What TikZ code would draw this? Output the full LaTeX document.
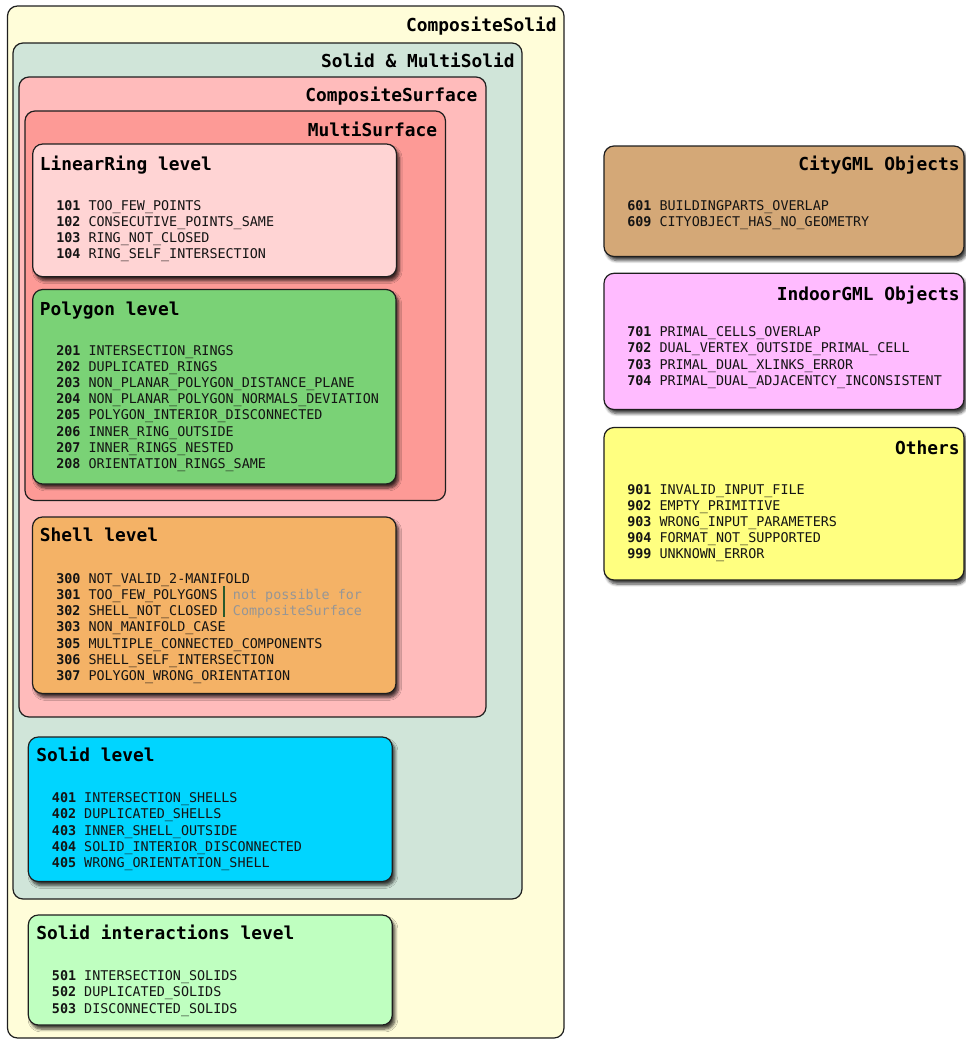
\documentclass[tikz,border=0pt]{standalone}
\usepackage{fontspec}
\setmonofont{DejaVu Sans Mono}
\usetikzlibrary{fit,shadows.blur}
\definecolor{linec}{RGB}{30,30,30}
\definecolor{csc}{RGB}{255,253,217}
\definecolor{smsc}{RGB}{208,229,217}
\definecolor{csurfc}{RGB}{255,187,187}
\definecolor{msurfc}{RGB}{253,154,150}
\definecolor{lrc}{RGB}{255,212,212}
\definecolor{polyc}{RGB}{122,210,118}
\definecolor{shellc}{RGB}{244,178,102}
\definecolor{solidc}{RGB}{0,213,255}
\definecolor{sintc}{RGB}{191,255,192}
\definecolor{cityc}{RGB}{212,168,119}
\definecolor{indoorc}{RGB}{255,187,255}
\definecolor{othersc}{RGB}{255,255,128}
\definecolor{notec}{RGB}{150,150,150}
\definecolor{vlinec}{RGB}{40,90,45}
\definecolor{txtc}{RGB}{20,20,20}
\tikzset{
  cont/.style={draw=linec, line width=0.9pt, rounded corners=7.5pt, inner sep=0pt},
  lvl/.style={cont, blur shadow={shadow xshift=2pt, shadow yshift=-3pt, shadow blur radius=2.2pt, shadow blur steps=6, shadow opacity=75}},
  ctitle/.style={font=\ttfamily\bfseries\fontsize{13.4}{16}\selectfont, text=black, inner sep=0pt, anchor=base east},
  ltitle/.style={font=\ttfamily\bfseries\fontsize{13.4}{16}\selectfont, text=black, inner sep=0pt, anchor=base west},
  itm/.style={font=\ttfamily\fontsize{10.05}{12}\selectfont, text=txtc, inner sep=0pt, anchor=base west},
}
\newcommand\itemlist[4]{%
  \foreach \nn/\lbl [count=\i from 0] in {#4} {
    \node[itm] (#1-\i) at (#2, #3+\i*16.2) {\textbf{\nn} \lbl};
  }
}
\begin{document}
\begin{tikzpicture}[x=0.75pt, y=-0.75pt]
\useasboundingbox (0,0) rectangle (966,1039);
% containers
\node[cont, fill=csc, fit={(7.5,6) (564,1038)}] (cs) {};
\node[ctitle] (cst) at (557,31.7) {CompositeSolid};
\node[cont, fill=smsc, fit={(13,43) (522,899)}] (sms) {};
\node[ctitle] (smst) at (515,67.3) {Solid \& MultiSolid};
\node[cont, fill=csurfc, fit={(19,77) (486,717)}] (csurf) {};
\node[ctitle] (csurft) at (477.7,101.7) {CompositeSurface};
\node[cont, fill=msurfc, fit={(25,111) (445.5,500.5)}] (msurf) {};
\node[ctitle] (msurft) at (437.3,136.7) {MultiSurface};
% LinearRing level
\node[lvl, fill=lrc, fit={(32.7,144) (396.5,276.7)}] (lr) {};
\node[ltitle] (lrt) at (39.5,170) {LinearRing level};
\itemlist{lri}{56}{210}{101/TOO\_FEW\_POINTS, 102/CONSECUTIVE\_POINTS\_SAME, 103/RING\_NOT\_CLOSED, 104/RING\_SELF\_INTERSECTION}
% Polygon level
\node[lvl, fill=polyc, fit={(32.7,289.5) (396,484)}] (poly) {};
\node[ltitle] (polyt) at (39.5,315) {Polygon level};
\itemlist{polyi}{56}{355}{201/INTERSECTION\_RINGS, 202/DUPLICATED\_RINGS, 203/NON\_PLANAR\_POLYGON\_DISTANCE\_PLANE, 204/NON\_PLANAR\_POLYGON\_NORMALS\_DEVIATION, 205/POLYGON\_INTERIOR\_DISCONNECTED, 206/INNER\_RING\_OUTSIDE, 207/INNER\_RINGS\_NESTED, 208/ORIENTATION\_RINGS\_SAME}
% Shell level
\node[lvl, fill=shellc, fit={(32.5,517) (396,693.5)}] (shell) {};
\node[ltitle] (shellt) at (39.5,541.7) {Shell level};
\itemlist{shelli}{56}{583.3}{300/NOT\_VALID\_2-MANIFOLD, 301/TOO\_FEW\_POLYGONS, 302/SHELL\_NOT\_CLOSED, 303/NON\_MANIFOLD\_CASE, 305/MULTIPLE\_CONNECTED\_COMPONENTS, 306/SHELL\_SELF\_INTERSECTION, 307/POLYGON\_WRONG\_ORIENTATION}
\coordinate (vl1) at (224,586);
\coordinate (vl2) at (224,616.5);
\draw[vlinec, line width=0.8pt] (vl1) -- (vl2);
\node[itm, text=notec] (note1) at (232.7,599.5) {not possible for};
\node[itm, text=notec] (note2) at (232.7,615.7) {CompositeSurface};
% Solid level
\node[lvl, fill=solidc, fit={(28.3,737) (392.3,881.5)}] (solid) {};
\node[ltitle] (solidt) at (36,761.7) {Solid level};
\itemlist{solidi}{51.7}{802.7}{401/INTERSECTION\_SHELLS, 402/DUPLICATED\_SHELLS, 403/INNER\_SHELL\_OUTSIDE, 404/SOLID\_INTERIOR\_DISCONNECTED, 405/WRONG\_ORIENTATION\_SHELL}
% Solid interactions level
\node[lvl, fill=sintc, fit={(28.3,915) (392.3,1025)}] (sint) {};
\node[ltitle] (sintt) at (36,939.3) {Solid interactions level};
\itemlist{sinti}{51.7}{980.7}{501/INTERSECTION\_SOLIDS, 502/DUPLICATED\_SOLIDS, 503/DISCONNECTED\_SOLIDS}
% right column
\node[lvl, fill=cityc, fit={(604,146) (964,256.5)}] (city) {};
\node[ctitle] (cityt) at (960,170.7) {CityGML Objects};
\itemlist{cityi}{627}{210}{601/BUILDINGPARTS\_OVERLAP, 609/CITYOBJECT\_HAS\_NO\_GEOMETRY}
\node[lvl, fill=indoorc, fit={(604,273.3) (964,409.5)}] (indoor) {};
\node[ctitle] (indoort) at (960,300.7) {IndoorGML Objects};
\itemlist{indoori}{627}{336.7}{701/PRIMAL\_CELLS\_OVERLAP, 702/DUAL\_VERTEX\_OUTSIDE\_PRIMAL\_CELL, 703/PRIMAL\_DUAL\_XLINKS\_ERROR, 704/PRIMAL\_DUAL\_ADJACENTCY\_INCONSISTENT}
\node[lvl, fill=othersc, fit={(604,427.5) (964,580)}] (others) {};
\node[ctitle] (otherst) at (960,454) {Others};
\itemlist{othersi}{627}{494}{901/INVALID\_INPUT\_FILE, 902/EMPTY\_PRIMITIVE, 903/WRONG\_INPUT\_PARAMETERS, 904/FORMAT\_NOT\_SUPPORTED, 999/UNKNOWN\_ERROR}
\end{tikzpicture}
\end{document}
